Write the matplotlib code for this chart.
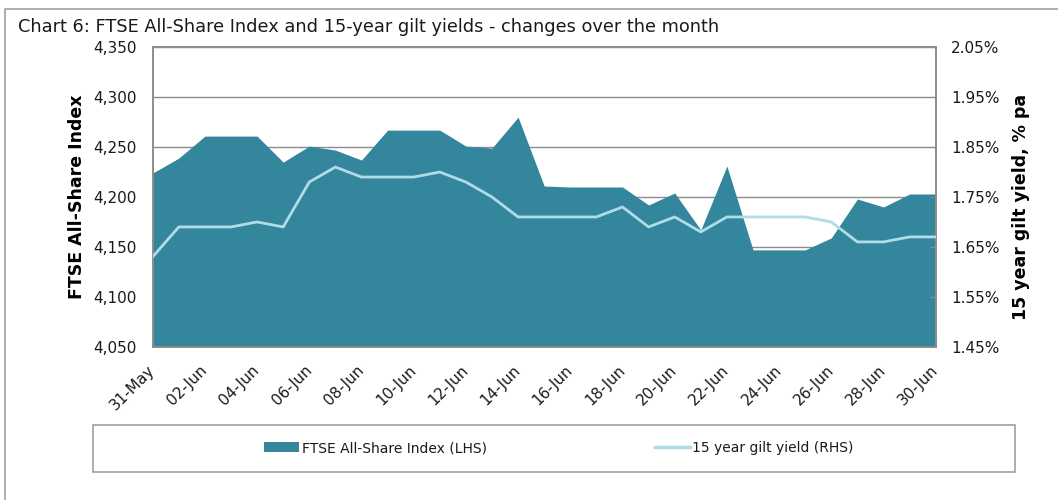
import matplotlib
matplotlib.use("Agg")
import matplotlib.pyplot as plt
from matplotlib.lines import Line2D
from matplotlib.patches import Rectangle, Patch
from matplotlib.ticker import FuncFormatter

# Data (31-May .. 30-Jun, daily)
days = ["31-May"] + [f"{d:02d}-Jun" for d in range(1, 31)]
ftse = [4224, 4239, 4261, 4261, 4261, 4235, 4251, 4247, 4237, 4267,
        4267, 4267, 4251, 4249, 4280, 4211, 4210, 4210, 4210, 4192,
        4204, 4167, 4231, 4147, 4147, 4147, 4159, 4198, 4190, 4203,
        4203]
gilt = [1.63, 1.69, 1.69, 1.69, 1.70, 1.69, 1.78, 1.81, 1.79, 1.79,
        1.79, 1.80, 1.78, 1.75, 1.71, 1.71, 1.71, 1.71, 1.73, 1.69,
        1.71, 1.68, 1.71, 1.71, 1.71, 1.71, 1.70, 1.66, 1.66, 1.67,
        1.67]
left_ticks = [4050, 4100, 4150, 4200, 4250, 4300, 4350]
right_ticks = [1.45, 1.55, 1.65, 1.75, 1.85, 1.95, 2.05]

AREA = "#33869c"
LINE = "#b0dce8"
GREY = "#8c8c8c"
TXT = "#1a1a1a"

plt.rcParams["font.family"] = "DejaVu Sans"

W, H = 1058, 500
fig = plt.figure(figsize=(W / 100, H / 100), dpi=100)

# plot area in pixel coordinates
x0, x1, y0, y1 = 152.7, 935.7, 47.3, 346.7
ax = fig.add_axes([x0 / W, 1 - y1 / H, (x1 - x0) / W, (y1 - y0) / H])
ax2 = ax.twinx()

x = list(range(len(days)))
ax.fill_between(x, left_ticks[0], ftse, color=AREA, linewidth=0, zorder=2)
ax2.plot(x, gilt, color=LINE, linewidth=2, zorder=3)

ax.set_xlim(0, len(days) - 1)
ax.set_ylim(left_ticks[0], left_ticks[-1])
ax2.set_ylim(right_ticks[0], right_ticks[-1])

ax.set_yticks(left_ticks)
ax.yaxis.set_major_formatter(FuncFormatter(lambda v, p: f"{v:,.0f}"))
ax2.set_yticks(right_ticks)
ax2.yaxis.set_major_formatter(FuncFormatter(lambda v, p: f"{v:.2f}%"))

ax.set_xticks(x[::2])
ax.set_xticklabels(days[::2], rotation=45, ha="right", va="center",
                   rotation_mode="anchor")

ax.grid(axis="y", color=GREY, linewidth=1, zorder=1)
ax.set_axisbelow(True)

for a in (ax, ax2):
    for s in a.spines.values():
        s.set_color(GREY)
        s.set_linewidth(1.2)

ax.tick_params(axis="x", direction="in", length=4, color=GREY, pad=15,
               labelsize=11, labelcolor=TXT)
ax.tick_params(axis="y", direction="in", length=0, pad=11.3,
               labelsize=11, labelcolor=TXT)
ax2.tick_params(axis="y", direction="in", length=4, color=GREY, pad=11,
                labelsize=11, labelcolor=TXT)

ax.set_ylabel("FTSE All-Share Index", fontsize=12.5, fontweight="bold")
ax.yaxis.set_label_coords((86 - x0) / (x1 - x0), (y1 - 196.5) / (y1 - y0))
ax2.set_ylabel("15 year gilt yield, % pa", fontsize=12.5, fontweight="bold")
ax2.yaxis.set_label_coords((1012 - x0) / (x1 - x0), (y1 - 206.5) / (y1 - y0))

fig.text(18 / W, 1 - 27 / H, "Chart 6: FTSE All-Share Index and 15-year gilt "
         "yields - changes over the month", fontsize=12.75, va="center",
         color=TXT)

# outer frame (left and top edges only visible)
fig.add_artist(Line2D([5 / W, 5 / W, 1.02], [-0.02, 1 - 9 / H, 1 - 9 / H],
                      transform=fig.transFigure, color="#a0a0a0", lw=1.2))

# legend box
lx0, lx1, ly0, ly1 = 93, 1015, 425, 471.7
fig.add_artist(Rectangle((lx0 / W, 1 - ly1 / H), (lx1 - lx0) / W,
                         (ly1 - ly0) / H, transform=fig.transFigure,
                         fill=False, edgecolor="#a0a0a0", lw=1.2))
entries = [
    (Patch(facecolor=AREA, edgecolor="none"), "FTSE All-Share Index (LHS)", 264),
    (Line2D([], [], color=LINE, lw=2.5), "15 year gilt yield (RHS)", 655),
]
for handle, label, px in entries:
    fig.legend([handle], [label], loc="center left",
               bbox_to_anchor=(px / W, 1 - 448 / H), frameon=False,
               fontsize=10, handlelength=2.5, handleheight=0.65,
               handletextpad=0.2, borderpad=0, borderaxespad=0,
               labelcolor=TXT)

fig.savefig("out.png", dpi=100)
